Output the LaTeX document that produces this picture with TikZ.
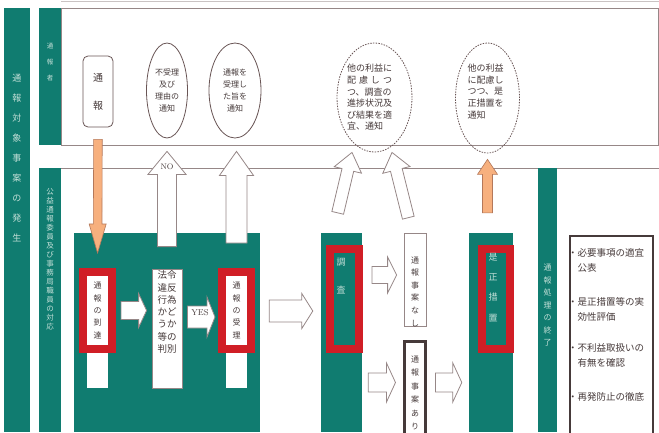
\documentclass[tikz,border=0pt]{standalone}
\usepackage{fontspec}
\newfontfamily\jp{Noto Sans CJK JP}
\usetikzlibrary{shapes.geometric,calc,positioning}

\definecolor{flowteal}{RGB}{16,124,112}
\definecolor{flowred}{RGB}{208,30,38}
\definecolor{floworange}{RGB}{247,176,126}
\definecolor{orangeline}{RGB}{180,120,90}
\definecolor{framegray}{RGB}{150,135,135}
\definecolor{noteline}{RGB}{105,85,85}
\definecolor{ink}{RGB}{70,58,58}
\definecolor{pale}{RGB}{196,224,216}

% block arrow: style, from, to, shaft half width, head half width, head length, gap at start, gap at end
\newcommand{\blockarrow}[8][]{%
  \draw[#1] let \p1=#2, \p2=#3,
      \n1={atan2(\y2-\y1,\x2-\x1)}, \n9={veclen(\x2-\x1,\y2-\y1)},
      \n3={cos(\n1)}, \n4={sin(\n1)},
      \n5={#7}, \n6={\n9-#8}, \n2={\n6-#6} in
    ({\x1+\n5*\n3+#4*\n4},{\y1+\n5*\n4-#4*\n3})
    -- ({\x1+\n2*\n3+#4*\n4},{\y1+\n2*\n4-#4*\n3})
    -- ({\x1+\n2*\n3+#5*\n4},{\y1+\n2*\n4-#5*\n3})
    -- ({\x1+\n6*\n3},{\y1+\n6*\n4})
    -- ({\x1+\n2*\n3-#5*\n4},{\y1+\n2*\n4+#5*\n3})
    -- ({\x1+\n2*\n3-#4*\n4},{\y1+\n2*\n4+#4*\n3})
    -- ({\x1+\n5*\n3-#4*\n4},{\y1+\n5*\n4+#4*\n3}) -- cycle;}

\begin{document}
\begin{tikzpicture}[x=1pt, y=-1pt,
  frameline/.style={draw=framegray, line width=0.8pt},
  tealbox/.style={fill=flowteal, inner sep=0pt},
  whitecol/.style={fill=white, inner sep=0pt},
  redbox/.style={draw=flowred, line width=8pt, inner sep=0pt},
  txtbox/.style={draw=framegray, fill=white, line width=0.8pt, inner sep=0pt},
  note/.style={ellipse, draw=noteline, line width=0.8pt, fill=white, inner sep=0pt,
    align=center, text=ink, font=\jp\fontsize{8}{12}\selectfont},
  dashnote/.style={ellipse, draw=noteline, line width=0.8pt, dash pattern=on 1.5pt off 1.2pt, inner sep=0pt},
  hollow/.style={fill=white, draw=framegray, line width=0.8pt},
  orangearrow/.style={fill=floworange, draw=orangeline, line width=0.6pt},
  vtext/.style={align=center, inner sep=0pt, text=ink},
  bartext/.style={align=center, inner sep=0pt, text=pale},
  listitem/.style={anchor=west, align=left, inner sep=0pt, text=ink, font=\jp\fontsize{9.5}{15}\selectfont}
]
  \useasboundingbox (0,0) rectangle (659,432);

  % Frame lines
  \draw[frameline, opacity=.5] (61,1) -- (659,1);
  \draw[frameline] (61,8) rectangle (658,145);
  \draw[frameline] (61,168) -- (659,168);

  % Side bars
  \node[tealbox, minimum width=26pt, minimum height=424pt] (occurbar) at (17,220) {};
  \node[tealbox, minimum width=22pt, minimum height=137pt] (reporterbar) at (50,76.5) {};
  \node[tealbox, minimum width=22pt, minimum height=264pt] (staffbar) at (50,300) {};
  \node[tealbox, minimum width=19pt, minimum height=264pt] (endbar) at (547.5,300) {};

  % Stage columns
  \node[tealbox, minimum width=186pt, minimum height=199pt] (stageone) at (167,332.5) {};
  \node[tealbox, minimum width=41pt, minimum height=199pt] (surveycol) at (341.5,332.5) {};
  \node[tealbox, minimum width=44pt, minimum height=199pt] (correctcol) at (491,332.5) {};
  \node[whitecol, minimum width=21pt, minimum height=112pt] (arrivecol) at (97.5,332) {};
  \node[whitecol, minimum width=21pt, minimum height=112pt] (acceptcol) at (236.5,332) {};
  \node[txtbox, minimum width=30pt, minimum height=119pt] (judge) at (167,328.5) {};

  % Red frames
  \node[redbox, fill=white, vtext, font=\jp\fontsize{8}{12.3}\selectfont,
    minimum width=29pt, minimum height=77pt] (arrive) at (97.5,310.5) {通\\報\\の\\到\\達};
  \node[redbox, fill=white, vtext, font=\jp\fontsize{8}{12.3}\selectfont,
    minimum width=29pt, minimum height=77pt] (accept) at (236.5,310.5) {通\\報\\の\\受\\理};
  \node[redbox, fill=flowteal, minimum width=29pt, minimum height=100pt] (survey) at (344.5,299) {};
  \node[redbox, fill=flowteal, minimum width=28pt, minimum height=100pt] (correct) at (496,299) {};

  % Result boxes
  \node[txtbox, minimum width=22pt, minimum height=93pt] (nothing) at (415,279.5) {};
  \node[txtbox, draw=ink, line width=3pt, vtext, font=\jp\fontsize{8}{13.4}\selectfont,
    minimum width=21pt, minimum height=104pt] (found) at (415,393) {通\\報\\事\\案\\あ\\り};
  \node[txtbox, draw=ink, line width=2pt, minimum width=83pt, minimum height=212pt,
    anchor=north west] (measures) at (569,235) {};

  % Reporter side
  \node[txtbox, draw=noteline, rounded corners=5pt, vtext, font=\jp\fontsize{10}{28}\selectfont,
    minimum width=30pt, minimum height=71pt] (report) at (98,91.5) {通\\報};
  \node[note, minimum width=41pt, minimum height=95pt] (rejectnote) at (167,90.5) {不受理\\及び\\理由の\\通知};
  \node[note, minimum width=52pt, minimum height=95pt] (acceptnote) at (235,90.5) {通報を\\受理し\\た旨を\\通知};
  \node[dashnote, minimum width=75pt, minimum height=109pt] (progressnote) at (374.5,97.5) {};
  \node[dashnote, minimum width=64pt, minimum height=110pt] (correctnote) at (487.5,98) {};

  % Arrows
  \blockarrow[orangearrow]{(report.south)}{(arrive.north)}{4.3}{8.5}{29}{12}{15}
  \blockarrow[hollow]{(arrive.east)}{(judge.west |- arrive.east)}{9}{17}{8}{5}{5}
  \blockarrow[hollow]{([yshift=11.5pt]judge.east)}{([yshift=-6.5pt]accept.west)}{11}{20}{8}{5}{3}
  \blockarrow[hollow]{(judge.north)}{(rejectnote.south)}{9.5}{19}{23}{22}{13}
  \blockarrow[hollow]{(accept.north)}{([xshift=1.5pt]acceptnote.south)}{10.5}{17}{24}{25}{13}
  \blockarrow[hollow]{([yshift=21.5pt]stageone.east)}{([yshift=21.5pt]surveycol.west)}{11}{17.5}{11}{9}{8}
  \blockarrow[hollow]{([yshift=24pt]survey.east)}{([yshift=4.5pt]nothing.west)}{8.5}{18}{9}{9}{7}
  \blockarrow[hollow]{([yshift=-50pt]surveycol.east)}{([yshift=10.5pt]found.west)}{9.5}{19.5}{9}{6}{7.5}
  \blockarrow[hollow]{([yshift=10.5pt]found.east)}{([yshift=-50pt]correctcol.west)}{9.5}{19.5}{9}{8.5}{7}
  \blockarrow[hollow]{([xshift=-8.5pt]surveycol.north)}{([xshift=-22.5pt]progressnote.south)}{6}{14}{18}{20.5}{0}
  \blockarrow[hollow]{([xshift=-3pt]nothing.north)}{([xshift=17.5pt]progressnote.south)}{6}{14}{18}{15.4}{0}
  \blockarrow[orangearrow]{([xshift=-3.5pt]correctcol.north)}{(correctnote.south)}{5}{10}{15}{20}{6}

  % Labels
  \node[vtext, font=\fontsize{8}{8}\selectfont] (nolabel) at (167,167) {NO};
  \node[vtext, font=\fontsize{8.5}{9}\selectfont] (yeslabel) at (200,313) {YES};
  \node[bartext, font=\jp\fontsize{9}{20}\selectfont] (occurtext) at (17,158) {通\\報\\対\\象\\事\\案\\の\\発\\生};
  \node[bartext, font=\jp\fontsize{6.5}{16}\selectfont] (reportertext) at (50,62) {通\\報\\者};
  \node[bartext, font=\jp\fontsize{7.5}{9}\selectfont] (stafftext) at (50,259.5)
    {公\\益\\通\\報\\委\\員\\及\\び\\事\\務\\局\\職\\員\\の\\対\\応};
  \node[bartext, font=\jp\fontsize{8}{12.5}\selectfont] (endtext) at (547.5,305.5) {通\\報\\処\\理\\の\\終\\了};
  \node[vtext, font=\jp\fontsize{9.5}{12.3}\selectfont] (judgetext) at (167,312) {法令\\違反\\行為\\かど\\うか\\等の\\判別};
  \node[bartext, font=\jp\fontsize{9}{28}\selectfont] (surveytext) at (341,276) {調\\査};
  \node[bartext, font=\jp\fontsize{9}{20.3}\selectfont] (correcttext) at (493,287.5) {是\\正\\措\\置};
  \node[vtext, font=\jp\fontsize{8}{12.6}\selectfont] (nothingtext) at (415,291.5) {通\\報\\事\\案\\な\\し};
  \node[vtext, align=left, text width=46pt, font=\jp\fontsize{9}{11.6}\selectfont] (progresstext) at (370,97.5)
    {他の利益に\\\makebox[45pt]{配\hfill 慮\hfill し\hfill つ}\\つ、調査の\\進捗状況及\\び結果を適\\宜、通知};
  \node[vtext, align=left, text width=37pt, font=\jp\fontsize{9}{11.8}\selectfont] (noticetext) at (486,91.5)
    {他の利益\\に配慮し\\つつ、是\\正措置を\\通知};

  % Follow-up list
  \node[listitem] (pubitem) at (568,260.5) {・必要事項の適宜\\\phantom{・}公表};
  \node[listitem] (evalitem) at (568,309.5) {・是正措置等の実\\\phantom{・}効性評価};
  \node[listitem] (checkitem) at (568,355.5) {・不利益取扱いの\\\phantom{・}有無を確認};
  \node[listitem] (previtem) at (568,397) {・再発防止の徹底};
\end{tikzpicture}
\end{document}
